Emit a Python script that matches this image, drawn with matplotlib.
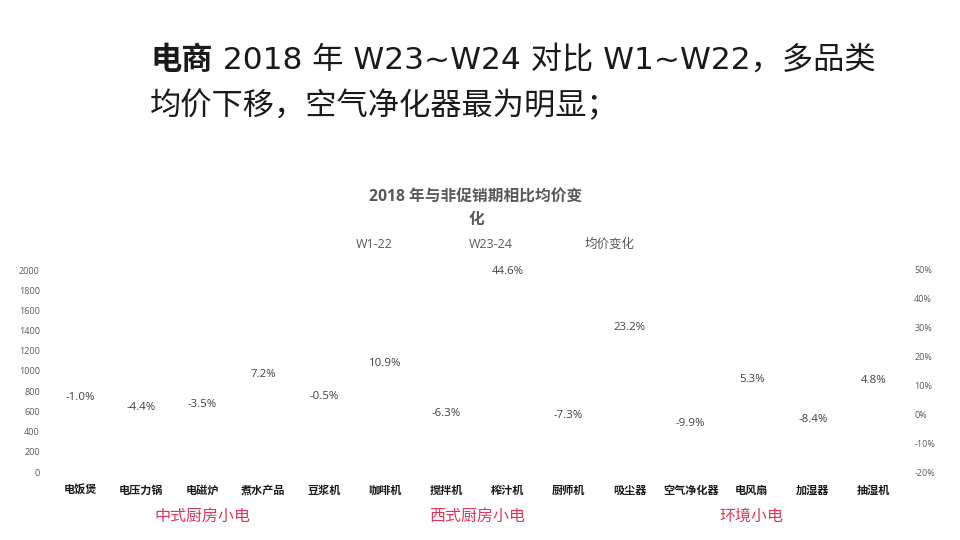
import matplotlib
matplotlib.use("Agg")
import matplotlib.pyplot as plt
import matplotlib.transforms as mtransforms

# Latin glyphs from Open Sans, Chinese ones from Noto Sans CJK SC
plt.rcParams['font.family'] = ['Open Sans', 'Noto Sans CJK SC', 'DejaVu Sans']
heading_font = ['DejaVu Sans', 'Noto Sans CJK SC']

# chart data
categories = ['电饭煲', '电压力锅', '电磁炉', '煮水产品', '豆浆机', '咖啡机', '搅拌机',
              '榨汁机', '厨师机', '吸尘器', '空气净化器', '电风扇', '加湿器', '抽湿机']
price_change = [-1.0, -4.4, -3.5, 7.2, -0.5, 10.9, -6.3,
                44.6, -7.3, 23.2, -9.9, 5.3, -8.4, 4.8]
left_ticks = [0, 200, 400, 600, 800, 1000, 1200, 1400, 1600, 1800, 2000]
right_ticks = [-20, -10, 0, 10, 20, 30, 40, 50]
legend_names = ['W1-22', 'W23-24', '均价变化']
groups = ['中式厨房小电', '西式厨房小电', '环境小电']
group_centers = [2, 6.5, 11]

fig = plt.figure(figsize=(9.6, 5.4), dpi=100)
ax = fig.add_axes([49.5 / 960, 68 / 540, 855 / 960, 202 / 540])
ax2 = ax.twinx()

x = list(range(len(categories)))
ax.set_xlim(-0.5, len(categories) - 0.5)
ax.set_ylim(0, 2000)
ax.set_yticks(left_ticks)
ax.set_yticklabels([str(t) for t in left_ticks])
ax2.set_ylim(-20, 50)
ax2.set_yticks(right_ticks)
ax2.set_yticklabels([f'{t}%' for t in right_ticks])

for a in (ax, ax2):
    for s in a.spines.values():
        s.set_visible(False)
    a.tick_params(length=0)
ax.tick_params(axis='y', labelsize=6.5, labelcolor='#595959', pad=7)
ax2.tick_params(axis='y', labelsize=6.5, labelcolor='#595959', pad=7)

ax.set_xticks(x)
ax.set_xticklabels(categories, fontsize=8, fontweight='bold', color='#1a1a1a')
ax.tick_params(axis='x', pad=10)

# average price change (line not shown in the reference, only its labels)
ax2.plot(x, price_change, alpha=0)
for xi, v in zip(x, price_change):
    off = 10 if v > 40 else 14
    ax2.annotate(f'{v:.1f}%', (xi, v), xytext=(0, off), textcoords='offset points',
                 ha='center', va='center', fontsize=8.2, color='#404040')

# group labels under the categories
trans = mtransforms.blended_transform_factory(ax.transData, fig.transFigure)
for g, c in zip(groups, group_centers):
    fig.text(c, 1 - 517 / 540, g, transform=trans, ha='center', va='center',
             fontsize=11.5, color='#e0365c')

# chart title and legend texts
fig.text(476 / 960, 1 - 209 / 540, '2018 年与非促销期相比均价变\n化', ha='center',
         va='center', fontsize=11.3, fontweight='bold', color='#595959', linespacing=1.55)
for name, px in zip(legend_names, [374, 491, 610]):
    fig.text(px / 960, 1 - 244 / 540, name, ha='center', va='center',
             fontsize=9, color='#595959')

# heading
fig.text(150 / 960, 1 - 60 / 540, '电商', ha='left', va='center', fontsize=22.5,
         fontweight='bold', color='#1a1a1a', family=heading_font)
fig.text(213 / 960, 1 - 60 / 540, ' 2018 年 W23~W24 对比 W1~W22，多品类', ha='left',
         va='center', fontsize=22.5, color='#1a1a1a', family=heading_font)
fig.text(150 / 960, 1 - 105 / 540, '均价下移，空气净化器最为明显；', ha='left',
         va='center', fontsize=22.5, color='#1a1a1a', family=heading_font)

fig.savefig('out.png', dpi=100)
